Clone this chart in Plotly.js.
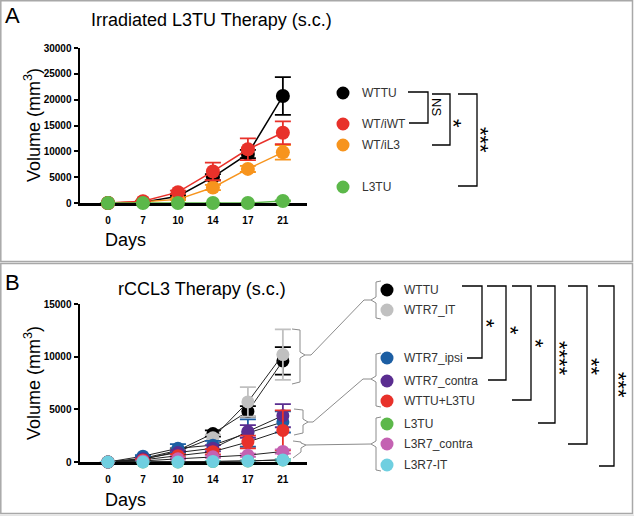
<!DOCTYPE html>
<html>
<head>
<meta charset="utf-8">
<script src="https://cdn.plot.ly/plotly-3.0.1.min.js"></script>
<style>
  body { margin: 0; background: #fff; }
  #chart { width: 634px; height: 516px; }
</style>
</head>
<body>
<div id="chart"></div>
<script>
// Days (categorical x axis, equally spaced)
const days = ['0', '7', '10', '14', '17', '21'];

// Panel A - Irradiated L3TU Therapy
const namesA = ['WTTU', 'WT/iWT', 'WT/iL3', 'L3TU'];
const wttuA = [0, 150, 1300, 5000, 9500, 20700];
const wttuAErr = [0, 50, 200, 600, 800, 3650];
const wtiwtA = [0, 350, 2100, 6100, 10400, 13600];
const wtiwtAErr = [0, 100, 300, 1700, 2100, 2200];
const wtil3A = [0, 250, 700, 3000, 6600, 9800];
const wtil3AErr = [0, 50, 150, 500, 600, 1400];
const l3tuA = [0, 0, 0, 0, 0, 400];
const l3tuAErr = [0, 0, 0, 0, 0, 100];

// Panel B - rCCL3 Therapy
const namesB = ['WTTU', 'WTR7_IT', 'WTR7_ipsi', 'WTR7_contra', 'WTTU+L3TU', 'L3TU', 'L3R7_contra', 'L3R7-IT'];
const wttuB = [0, 350, 1100, 2700, 4800, 9600];
const wttuBErr = [0, 80, 200, 300, 500, 1300];
const wtr7itB = [0, 250, 1000, 2300, 5700, 10200];
const wtr7itBErr = [0, 60, 200, 300, 1400, 2400];
const wtr7ipsiB = [0, 550, 1300, 1600, 2750, 3800];
const wtr7ipsiBErr = [0, 100, 400, 400, 1300, 1000];
const wtr7contraB = [0, 300, 900, 1300, 2900, 4400];
const wtr7contraBErr = [0, 80, 200, 300, 600, 1100];
const wttul3tuB = [0, 200, 600, 980, 1900, 3000];
const wttul3tuBErr = [0, 60, 150, 250, 600, 1900];
const l3tuB = [0, 0, 0, 50, 100, 200];
const l3tuBErr = [0, 0, 0, 20, 50, 80];
const l3r7contraB = [0, 100, 300, 500, 650, 1000];
const l3r7contraBErr = [0, 30, 80, 100, 150, 200];
const l3r7itB = [0, 0, 0, 50, 100, 200];
const l3r7itBErr = [0, 0, 0, 20, 40, 60];

const colA = ['#000000', '#e8312a', '#f7941d', '#5cb84a'];
const colB = ['#000000', '#c0c0c0', '#1c5ea3', '#5a2d90', '#e8312a', '#5cb84a', '#c462b2', '#6fcfe0'];

const W = 634, H = 516;
const FONT = 'Liberation Sans, Arial, sans-serif';
function px(x) { return x / W; }
function py(y) { return 1 - y / H; }
function pathOf(pts) {
  return pts.map((p, i) => (i ? 'L' : 'M') + px(p[0]).toFixed(5) + ',' + py(p[1]).toFixed(5)).join(' ');
}

function traceA(y, err, color, name) {
  return {
    x: days, y: y, name: name, type: 'scatter', mode: 'lines+markers',
    xaxis: 'x', yaxis: 'y', cliponaxis: false,
    line: {color: color, width: 1.5},
    marker: {color: color, size: 14},
    error_y: {type: 'data', array: err, color: color, thickness: 1.8, width: 8}
  };
}
function traceB(y, err, color, name) {
  return {
    x: days, y: y, name: name, type: 'scatter', mode: 'lines+markers',
    xaxis: 'x2', yaxis: 'y2', cliponaxis: false,
    line: {color: '#222', width: 1},
    marker: {color: color, size: 13},
    error_y: {type: 'data', array: err, color: color, thickness: 1.8, width: 8}
  };
}

const data = [
  traceA(wttuA, wttuAErr, colA[0], namesA[0]),
  traceA(wtil3A, wtil3AErr, colA[2], namesA[2]),
  traceA(wtiwtA, wtiwtAErr, colA[1], namesA[1]),
  traceA(l3tuA, l3tuAErr, colA[3], namesA[3]),
  traceB(wttuB, wttuBErr, colB[0], namesB[0]),
  traceB(wtr7itB, wtr7itBErr, colB[1], namesB[1]),
  traceB(wtr7ipsiB, wtr7ipsiBErr, colB[2], namesB[2]),
  traceB(wtr7contraB, wtr7contraBErr, colB[3], namesB[3]),
  traceB(wttul3tuB, wttul3tuBErr, colB[4], namesB[4]),
  traceB(l3tuB, l3tuBErr, colB[5], namesB[5]),
  traceB(l3r7contraB, l3r7contraBErr, colB[6], namesB[6]),
  traceB(l3r7itB, l3r7itBErr, colB[7], namesB[7])
];

const tickFont = {family: FONT, size: 10, color: '#000', weight: 'bold'};
function xAxis(anchor) {
  return {
    anchor: anchor, domain: [px(80), px(307)], type: 'category',
    range: [-0.8, 5.69], showgrid: false, zeroline: false,
    showline: true, linecolor: '#000', linewidth: 2.5, layer: 'below traces',
    ticks: 'outside', ticklen: 6, tickcolor: 'rgba(0,0,0,0)',
    tickfont: tickFont, fixedrange: true
  };
}
function yAxis(anchor, top, bottom, maxV) {
  return {
    anchor: anchor, domain: [py(bottom), py(top)], range: [0, maxV],
    tick0: 0, dtick: 5000, showgrid: false, zeroline: false,
    showline: true, linecolor: '#000', linewidth: 2.5, layer: 'below traces',
    ticks: 'outside', ticklen: 4, tickwidth: 2, tickcolor: '#000',
    tickfont: tickFont, tickformat: 'd', fixedrange: true
  };
}

const shapes = [];
const annotations = [];

// panel frames
shapes.push({type: 'rect', xref: 'paper', yref: 'paper', x0: px(0.8), x1: px(632.5), y0: py(261.5), y1: py(0.8),
  line: {color: '#a8a8a8', width: 1.5}});
shapes.push({type: 'rect', xref: 'paper', yref: 'paper', x0: px(0.8), x1: px(632.5), y0: py(513.5), y1: py(263.5),
  line: {color: '#a8a8a8', width: 1.5}});
shapes.push({type: 'rect', xref: 'paper', yref: 'paper', x0: 0, x1: 1, y0: 0, y1: py(514.5),
  fillcolor: '#e4e4e4', line: {width: 0}});

function label(text, x, y, size, opts) {
  annotations.push(Object.assign({
    text: text, xref: 'paper', yref: 'paper', x: px(x), y: py(y),
    xanchor: 'center', yanchor: 'middle', showarrow: false,
    font: {family: FONT, size: size, color: '#000'}
  }, opts || {}));
}

// titles, panel letters, axis titles
label('A', 12, 15, 22);
label('B', 12, 282, 22);
label('Irradiated L3TU Therapy (s.c.)', 211, 20, 18);
label('rCCL3 Therapy (s.c.)', 202, 289, 18);
label('Volume (mm<sup>3</sup>)', 32, 125, 18, {textangle: -90});
label('Volume (mm<sup>3</sup>)', 32, 383, 18, {textangle: -90});
label('Days', 125, 240, 18);
label('Days', 125, 500, 18);

// legends
function legendItem(name, color, cx, cy, tx) {
  shapes.push({type: 'circle', xref: 'paper', yref: 'paper', xsizemode: 'pixel', ysizemode: 'pixel',
    xanchor: px(cx), yanchor: py(cy), x0: -6.5, x1: 6.5, y0: -6.5, y1: 6.5,
    fillcolor: color, line: {width: 0}});
  label(name, tx, cy, 12, {xanchor: 'left', font: {family: FONT, size: 12, color: '#333'}});
}
const legYA = [93, 124, 145, 187];
namesA.forEach((n, i) => legendItem(n, colA[i], 343, legYA[i], 360));
const legYB = [290, 310, 358, 381, 401, 424, 444, 465];
namesB.forEach((n, i) => legendItem(n, colB[i], 387, legYB[i], 402));

// significance brackets
function bracket(pts, color, width) {
  shapes.push({type: 'path', xref: 'paper', yref: 'paper', path: pathOf(pts),
    line: {color: color, width: width}});
}
bracket([[408, 92], [428, 92], [428, 123], [409, 123]], '#000', 1.3);
bracket([[432, 94], [450, 94], [450, 145], [432, 145]], '#000', 1.3);
bracket([[458, 94], [477, 94], [477, 186], [458, 186]], '#000', 1.3);
label('NS', 437, 107, 13, {textangle: 90});
label('*', 453, 123, 22, {textangle: 90});
label('***', 481, 140, 22, {textangle: 90});

const sigB = [
  [462, 467, 482, 358, '*', 323],
  [487, 488, 506, 380, '*', 330],
  [512, 512, 531, 400, '*', 343],
  [537, 538, 555, 423, '****', 358],
  [568, 568, 587, 444, '**', 367],
  [598, 599, 614, 466, '***', 385]
];
sigB.forEach(s => {
  bracket([[s[0], 286], [s[2], 286], [s[2], s[3]], [s[1], s[3]]], '#000', 1.3);
  label(s[4], s[2] + 5, s[5], 22, {textangle: 90});
});

// grey braces linking data groups to legend groups
const grey = '#8c8c8c';
bracket([[292, 329], [300, 330], [300, 352], [305, 355], [300, 358], [300, 382], [292, 384]], grey, 1);
bracket([[305, 355], [311, 355], [364, 300], [371, 300]], grey, 1);
bracket([[294, 409], [303, 410], [303, 419], [308, 422], [303, 425], [303, 433], [294, 435]], grey, 1);
bracket([[308, 422], [313, 422], [363, 379], [371, 379]], grey, 1);
bracket([[293, 441], [301, 442], [301, 443], [306, 445], [301, 448], [301, 452], [293, 458]], grey, 1);
bracket([[306, 445], [371, 444]], grey, 1);
bracket([[381, 281], [376, 282], [376, 297], [371, 300], [376, 303], [376, 318], [381, 319]], grey, 1);
bracket([[381, 353], [376, 354], [376, 376], [371, 379], [376, 382], [376, 406], [381, 407]], grey, 1);
bracket([[381, 417], [376, 418], [376, 441], [371, 444], [376, 447], [376, 470], [381, 471]], grey, 1);

const layout = {
  width: W, height: H,
  margin: {l: 0, r: 0, t: 0, b: 0},
  paper_bgcolor: '#fff', plot_bgcolor: 'rgba(0,0,0,0)',
  showlegend: false,
  xaxis: xAxis('y'),
  yaxis: yAxis('x', 48, 203, 30000),
  xaxis2: xAxis('y2'),
  yaxis2: yAxis('x2', 304, 462, 15000),
  shapes: shapes,
  annotations: annotations,
  font: {family: FONT}
};

Plotly.newPlot('chart', data, layout, {staticPlot: true});
</script>
</body>
</html>
